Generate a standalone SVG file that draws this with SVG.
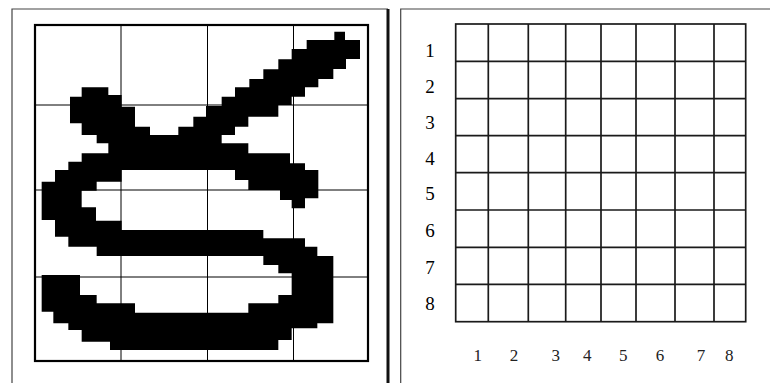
<svg xmlns="http://www.w3.org/2000/svg" width="770" height="383" viewBox="0 0 770 383">
<style>
.frame{fill:none;stroke:#444;stroke-width:1.2}
.thin{stroke:#000;stroke-width:1}
.grid{stroke:#1a1a1a;stroke-width:1.7;fill:none}
.rl{font-family:"Liberation Serif",serif;font-size:19px;fill:#000;text-anchor:middle}
.cl{font-family:"Liberation Serif",serif;font-size:17px;fill:#222;text-anchor:middle}
</style>
<rect width="770" height="383" fill="#fff"/>
<g id="left-panel">
<path class="frame" d="M12,383 V9 H388"/>
<line x1="388" y1="9" x2="388" y2="383" stroke="#111" stroke-width="3"/>
<g id="glyph">
<polygon fill="#000" transform="scale(0.33333)" points="1003,95 1035,95 1035,120 1080,120 1080,177 1038,177 1038,207 1000,207 1000,237 955,237 955,262 915,262 915,290 875,290 875,315 835,315 835,350 745,350 745,380 705,380 705,405 665,405 665,430 745,430 745,460 870,460 870,490 915,490 915,510 955,510 955,595 915,595 915,625 875,625 875,600 840,600 840,570 745,570 745,540 705,540 705,510 365,510 365,545 290,545 290,572 245,572 245,622 288,622 288,662 365,662 365,690 790,690 790,715 915,715 915,740 952,740 952,768 1000,768 1000,970 952,970 952,985 875,985 875,1020 835,1020 835,1050 330,1050 330,1025 245,1025 245,990 205,990 205,970 160,970 160,935 125,935 125,825 240,825 240,885 290,885 290,910 405,910 405,938 745,938 745,910 835,910 835,885 875,885 875,820 835,820 835,795 790,795 790,768 290,768 290,740 205,740 205,710 165,710 165,660 125,660 125,545 165,545 165,510 205,510 205,485 245,485 245,460 325,460 325,430 290,430 290,405 245,405 245,370 210,370 210,290 245,290 245,262 325,262 325,285 365,285 365,320 405,320 405,380 450,380 450,405 535,405 535,380 580,380 580,350 618,350 618,318 665,318 665,290 705,290 705,262 748,262 748,237 790,237 790,208 835,208 835,178 875,178 875,147 920,147 920,120 1003,120"/>
</g>
<g id="left-grid">
<line class="thin" x1="121" y1="25" x2="121" y2="361"/>
<line class="thin" x1="207.5" y1="25" x2="207.5" y2="361"/>
<line class="thin" x1="293.5" y1="25" x2="293.5" y2="361"/>
<line class="thin" x1="35" y1="105" x2="368" y2="105"/>
<line class="thin" x1="35" y1="190" x2="368" y2="190"/>
<line class="thin" x1="35" y1="277" x2="368" y2="277"/>
<rect x="35" y="25" width="333" height="336" fill="none" stroke="#000" stroke-width="2.2"/>
</g>
</g>
<g id="right-panel">
<path class="frame" d="M400.7,383 V9 H770"/>
<g id="right-grid" class="grid">
<rect x="455.7" y="24" width="290" height="297.7"/>
<path d="M488.3,24V321.7M528.3,24V321.7M565.7,24V321.7M601,24V321.7M636,24V321.7M675,24V321.7M714,24V321.7"/>
<path d="M455.7,61.3H745.7M455.7,98.7H745.7M455.7,135.7H745.7M455.7,172.7H745.7M455.7,210H745.7M455.7,247.3H745.7M455.7,284.3H745.7"/>
</g>
<g id="row-labels">
<text class="rl" x="430" y="56.5">1</text>
<text class="rl" x="430" y="92.5">2</text>
<text class="rl" x="430" y="129">3</text>
<text class="rl" x="430" y="164.5">4</text>
<text class="rl" x="430" y="199.5">5</text>
<text class="rl" x="430" y="236.5">6</text>
<text class="rl" x="430" y="273.5">7</text>
<text class="rl" x="430" y="309.5">8</text>
</g>
<g id="col-labels">
<text class="cl" x="477.7" y="361">1</text>
<text class="cl" x="514" y="361">2</text>
<text class="cl" x="555.7" y="361">3</text>
<text class="cl" x="587.3" y="361">4</text>
<text class="cl" x="623.3" y="361">5</text>
<text class="cl" x="660" y="361">6</text>
<text class="cl" x="701" y="361">7</text>
<text class="cl" x="729.3" y="361">8</text>
</g>
</g>
</svg>
